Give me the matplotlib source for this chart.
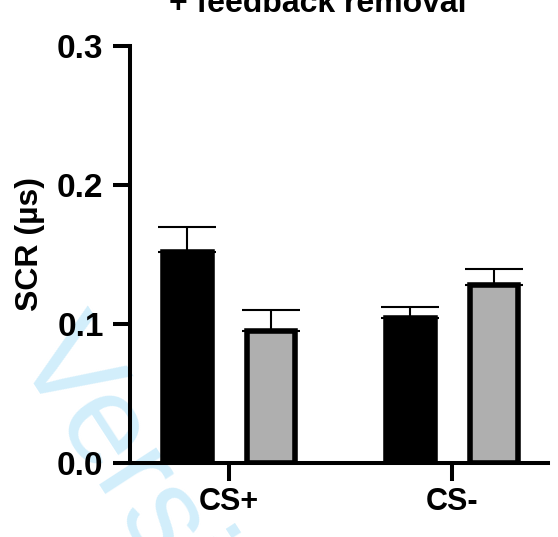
import numpy as np
import matplotlib
matplotlib.use('Agg')
import matplotlib.pyplot as plt

plt.rcParams['font.family'] = ['Liberation Sans', 'DejaVu Sans']

categories = ['CS+', 'CS-']
black_means = [0.152, 0.104]
black_err = [0.0175, 0.008]
gray_means = [0.095, 0.128]
gray_err = [0.015, 0.0115]
y_ticks = [0.0, 0.1, 0.2, 0.3]

fig = plt.figure(figsize=(5.58, 5.37), dpi=100)

# watermark behind everything
fig.text(0.0215, 0.3445, 'Versi', color='#d2eefb', fontsize=92, rotation=-57,
         rotation_mode='anchor', ha='left', va='baseline', zorder=-1)

ax = fig.add_axes([130 / 558, 1 - 463 / 537, 418 / 558, 417 / 537])
ax.patch.set_alpha(0)

x = np.arange(len(categories))
off = 0.187
w = 0.217
ax.bar(x - off, black_means, width=w, color='black', edgecolor='black', linewidth=4,
       yerr=[np.zeros(2), black_err], capsize=21,
       error_kw=dict(elinewidth=1.5, capthick=1.5, ecolor='black'), zorder=3)
ax.bar(x + off, gray_means, width=w, color='#afafaf', edgecolor='black', linewidth=4,
       yerr=[np.zeros(2), gray_err], capsize=21,
       error_kw=dict(elinewidth=1.5, capthick=1.5, ecolor='black'), zorder=3)

ax.set_xlim(-0.444, 1.43)
ax.set_ylim(0, 0.3)
ax.set_yticks(y_ticks)
ax.set_yticklabels(['0.0', '0.1', '0.2', '0.3'], fontsize=24, fontweight='bold')
ax.set_xticks(x)
ax.set_xticklabels(categories, fontsize=22, fontweight='bold')

for s in ['top', 'right']:
    ax.spines[s].set_visible(False)
for s in ['left', 'bottom']:
    ax.spines[s].set_linewidth(2.9)
    ax.spines[s].set_zorder(4)
ax.tick_params(axis='y', length=12, width=2.9, pad=7)
ax.tick_params(axis='x', length=13, width=2.9, pad=4)

fig.text(30 / 558, 1 - 244 / 537, 'SCR (µs)', rotation=90, ha='center', va='center',
         fontsize=23, fontweight='bold')
fig.text(318 / 558, 1 - 12 / 537, '+ feedback removal', ha='center', va='baseline',
         fontsize=23, fontweight='bold')

fig.savefig('out.png', dpi=100)
